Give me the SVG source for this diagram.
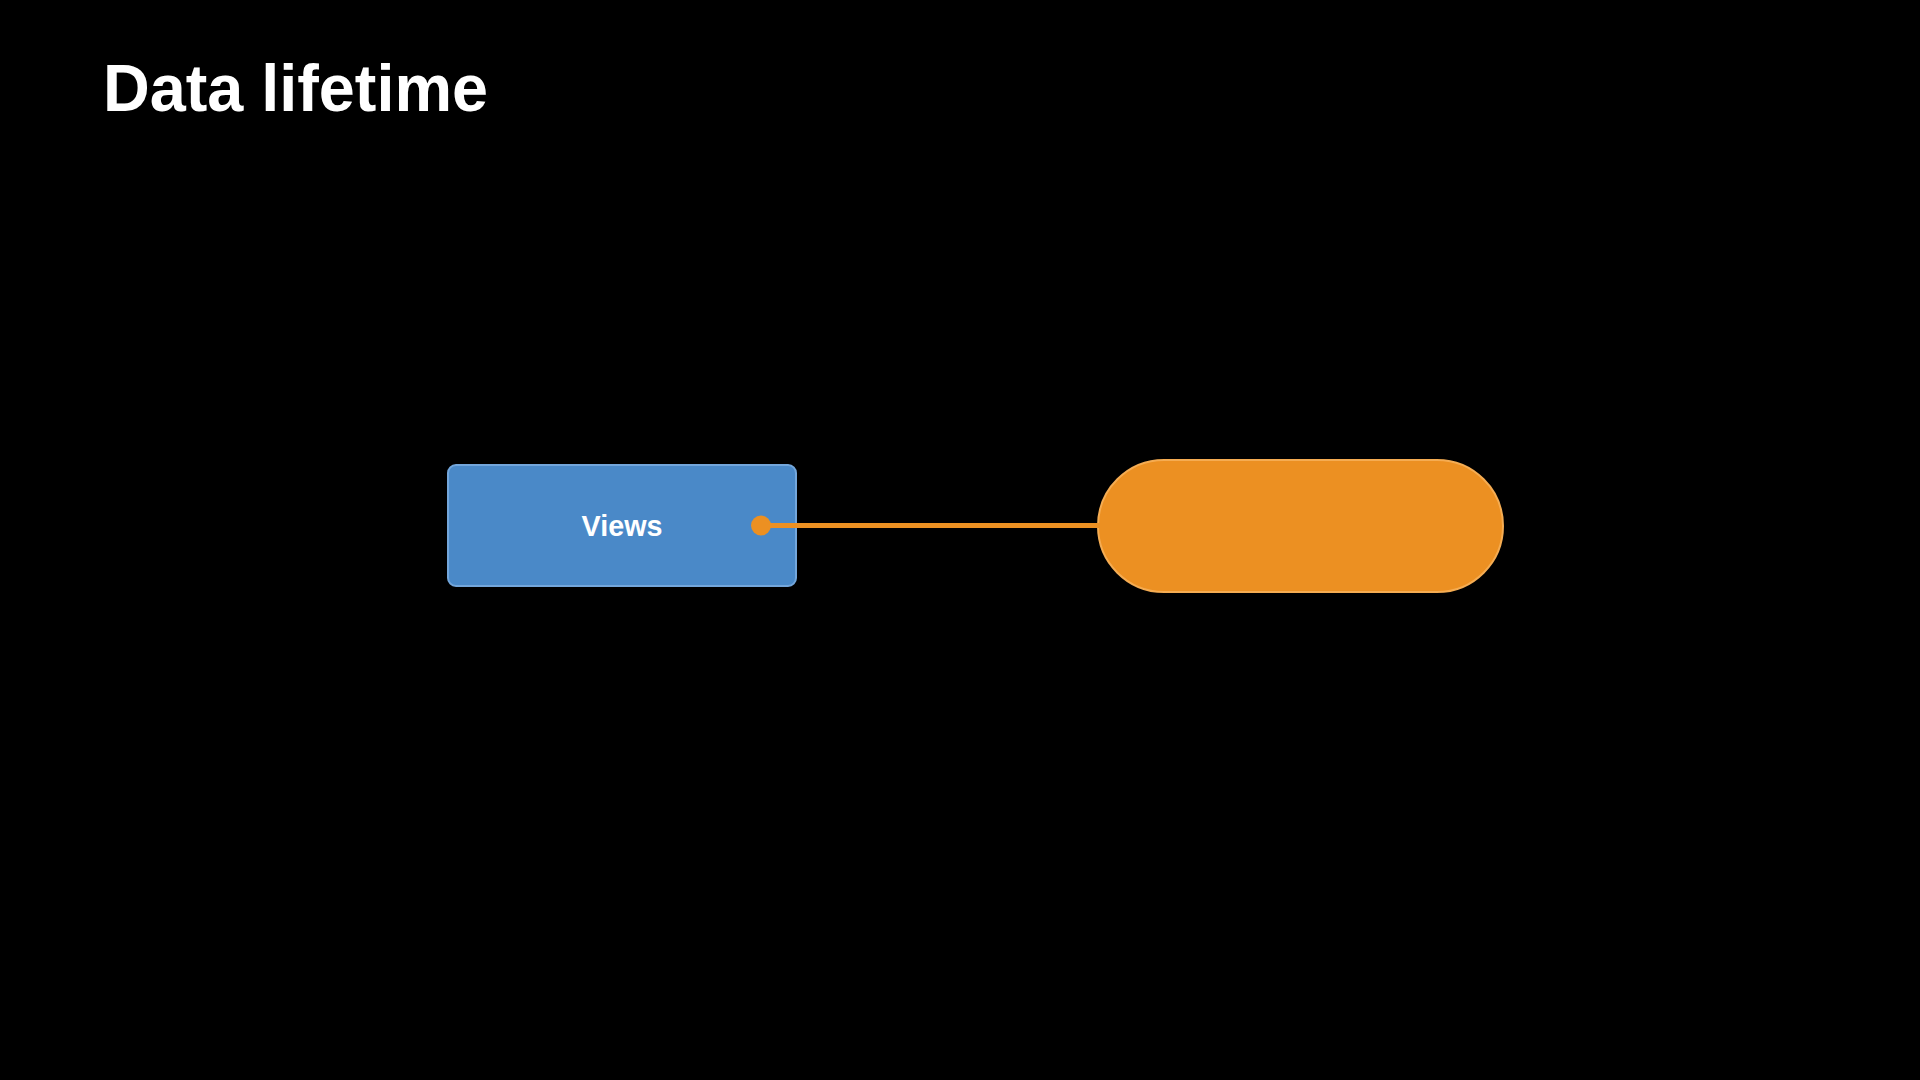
<svg xmlns="http://www.w3.org/2000/svg" width="1920" height="1080" viewBox="0 0 1920 1080">
  <style>
    .title { font-family: "Liberation Sans", Arial, sans-serif; font-weight: bold; font-size: 66px; fill: #ffffff; }
    .label { font-family: "Liberation Sans", Arial, sans-serif; font-weight: bold; font-size: 29px; fill: #ffffff; }
    .view { fill: #4A89C8; stroke: #73A6DB; stroke-width: 2; }
    .store { fill: #EC9022; stroke: #F5AC52; stroke-width: 2; }
    .conn { stroke: #EC9022; stroke-width: 5; fill: none; }
  </style>
  <rect width="1920" height="1080" fill="#000000"/>
  <text class="title" x="103" y="111" textLength="385" lengthAdjust="spacingAndGlyphs">Data lifetime</text>
  <g id="views">
    <rect class="view" x="448" y="465" width="348" height="121" rx="8"/>
    <text class="label" x="622" y="536" text-anchor="middle" textLength="81" lengthAdjust="spacingAndGlyphs">Views</text>
  </g>
  <g id="store">
    <rect class="store" x="1098" y="460" width="405" height="132" rx="66"/>
  </g>
  <g id="connectors">
    <line class="conn" x1="761" y1="525.5" x2="1100" y2="525.5"/>
    <circle cx="761" cy="525.5" r="10" fill="#EC9022"/>
  </g>
</svg>
